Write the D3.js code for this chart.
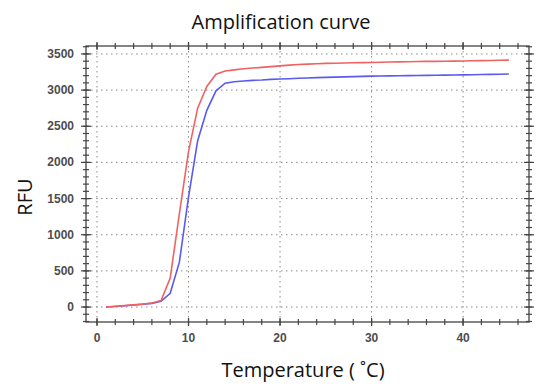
<!DOCTYPE html>
<html>
<head>
<meta charset="utf-8">
<script src="https://cdn.jsdelivr.net/npm/d3@7"></script>
<style>
  body { margin: 0; background: #fff; }
  svg { display: block; }
</style>
</head>
<body>
<div id="chart"></div>
<script>
var width = 550,
    height = 388;

// temperature points (x) and the two RFU traces
var temps = d3.range(1, 46);
var redRFU = [0, 10, 20, 30, 40, 55, 90, 400, 1290, 2150, 2750, 3050, 3220, 3265, 3280,
  3295, 3305, 3315, 3325, 3335, 3345, 3355, 3360, 3365, 3370, 3372, 3375, 3378, 3380, 3382,
  3385, 3388, 3390, 3392, 3395, 3397, 3398, 3400, 3401, 3403, 3405, 3408, 3410, 3412, 3415];
var blueRFU = [0, 8, 18, 28, 38, 50, 80, 190, 620, 1520, 2300, 2720, 2990, 3095, 3115,
  3125, 3135, 3140, 3148, 3153, 3158, 3163, 3168, 3172, 3176, 3180, 3183, 3186, 3190, 3193,
  3195, 3197, 3199, 3200, 3202, 3204, 3205, 3207, 3209, 3211, 3213, 3215, 3217, 3219, 3222];

var xMajor = [0, 10, 20, 30, 40];
var xMinor = d3.range(0, 47, 2);
var yMajor = [0, 500, 1000, 1500, 2000, 2500, 3000, 3500];
var yMinor = d3.range(-200, 3601, 100);

// plot box edges (note: "top" is a reserved window property)
var boxL = 86, boxR = 529, boxT = 46, boxB = 322;

var x = d3.scaleLinear().domain([-1.2, 47.2]).range([boxL, boxR]);
var y = d3.scaleLinear().domain([-207, 3610]).range([boxB, boxT]);

var svg = d3.select("#chart").append("svg")
    .attr("width", width)
    .attr("height", height);

// dotted grid
svg.selectAll(".vgrid")
  .data(xMajor)
  .enter().append("line")
    .attr("x1", function(d) { return x(d); })
    .attr("x2", function(d) { return x(d); })
    .attr("y1", boxT).attr("y2", boxB)
    .attr("stroke", "#8a8a8a")
    .attr("stroke-width", 1)
    .attr("stroke-dasharray", "1.5,3.5");

svg.selectAll(".hgrid")
  .data(yMajor)
  .enter().append("line")
    .attr("y1", function(d) { return y(d); })
    .attr("y2", function(d) { return y(d); })
    .attr("x1", boxL).attr("x2", boxR)
    .attr("stroke", "#8a8a8a")
    .attr("stroke-width", 1)
    .attr("stroke-dasharray", "1.5,3.5");

// curves
var line = d3.line()
  .x(function(d) { return x(d[0]); })
  .y(function(d) { return y(d[1]); });

svg.append("path")
  .datum(temps.map(function(t, i) { return [t, blueRFU[i]]; }))
  .attr("fill", "none")
  .attr("stroke", "#5a5af0")
  .attr("stroke-width", 1.6)
  .attr("d", line);

svg.append("path")
  .datum(temps.map(function(t, i) { return [t, redRFU[i]]; }))
  .attr("fill", "none")
  .attr("stroke", "#f06262")
  .attr("stroke-width", 1.6)
  .attr("d", line);

// frame
svg.append("rect")
  .attr("x", boxL).attr("y", boxT)
  .attr("width", boxR - boxL).attr("height", boxB - boxT)
  .attr("fill", "none")
  .attr("stroke", "#444")
  .attr("stroke-width", 1.3);

// ticks crossing all four sides
function xTicks(vals, len) {
  [boxT, boxB].forEach(function(yy) {
    svg.selectAll(null)
      .data(vals)
      .enter().append("line")
        .attr("x1", function(d) { return x(d); })
        .attr("x2", function(d) { return x(d); })
        .attr("y1", yy - len).attr("y2", yy + len)
        .attr("stroke", "#444")
        .attr("stroke-width", 1.2);
  });
}
function yTicks(vals, len) {
  [boxL, boxR].forEach(function(xx) {
    svg.selectAll(null)
      .data(vals)
      .enter().append("line")
        .attr("y1", function(d) { return y(d); })
        .attr("y2", function(d) { return y(d); })
        .attr("x1", xx - len).attr("x2", xx + len)
        .attr("stroke", "#444")
        .attr("stroke-width", 1.2);
  });
}
xTicks(xMinor, 3);
xTicks(xMajor, 4);
yTicks(yMinor, 3);
yTicks(yMajor, 5);

// tick labels
svg.selectAll(".xlab")
  .data(xMajor)
  .enter().append("text")
    .attr("x", function(d) { return x(d); })
    .attr("y", 342)
    .attr("text-anchor", "middle")
    .attr("font-family", "Liberation Sans, Arial, sans-serif")
    .attr("font-size", 12)
    .attr("font-weight", "bold")
    .attr("fill", "#4d4d4d")
    .text(function(d) { return d; });

svg.selectAll(".ylab")
  .data(yMajor)
  .enter().append("text")
    .attr("x", 74)
    .attr("y", function(d) { return y(d) + 4; })
    .attr("text-anchor", "end")
    .attr("font-family", "Liberation Sans, Arial, sans-serif")
    .attr("font-size", 12)
    .attr("font-weight", "bold")
    .attr("fill", "#4d4d4d")
    .text(function(d) { return d; });

// titles
svg.append("text")
  .attr("x", 281).attr("y", 29)
  .attr("text-anchor", "middle")
  .attr("font-family", "Open Sans, sans-serif")
  .attr("font-size", 20)
  .attr("fill", "#111")
  .text("Amplification curve");

svg.append("text")
  .attr("transform", "translate(32,197) rotate(-90)")
  .attr("text-anchor", "middle")
  .attr("font-family", "Open Sans, sans-serif")
  .attr("font-size", 20)
  .attr("fill", "#111")
  .text("RFU");

svg.append("text")
  .attr("x", 303).attr("y", 377)
  .attr("text-anchor", "middle")
  .attr("font-family", "Open Sans, sans-serif")
  .attr("font-size", 20)
  .attr("fill", "#111")
  .text("Temperature ( \u02DAC)");
</script>
</body>
</html>
